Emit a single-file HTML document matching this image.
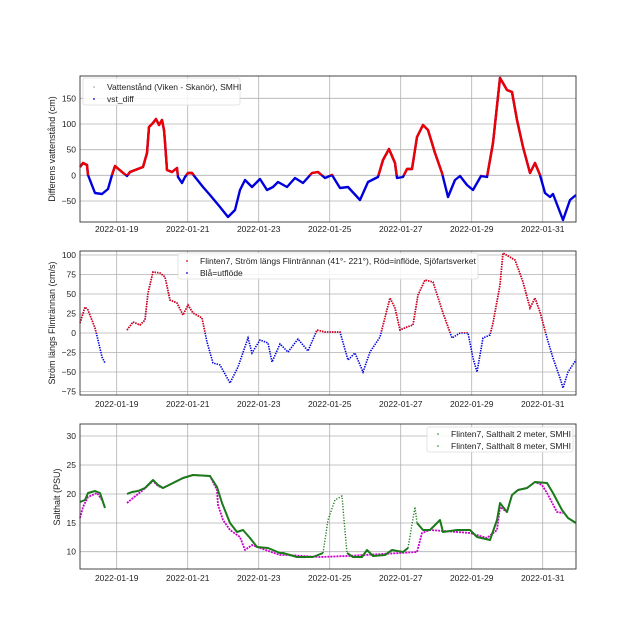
<!DOCTYPE html>
<html><head><meta charset="utf-8"><style>
html,body{margin:0;padding:0;background:#fff}
svg{display:block}
text{font-family:"Liberation Sans","DejaVu Sans",sans-serif;fill:#222}
.t{font-size:8.5px}
.yl{font-size:9px}
.lg{font-size:8.5px}
.g{stroke:#b0b0b0;stroke-width:0.8}
.ax{fill:none;stroke:#333;stroke-width:0.9}
</style></head><body>
<svg width="640" height="640" viewBox="0 0 640 640" xmlns="http://www.w3.org/2000/svg">
<defs>
<clipPath id="c1r"><rect x="80" y="76" width="496" height="99.3"/></clipPath>
<clipPath id="c2r"><rect x="80" y="251" width="496" height="82"/></clipPath>
</defs>

<!-- Panel 1 -->
<g>
<g class="g">
<line x1="116.7" y1="76" x2="116.7" y2="222"/><line x1="187.7" y1="76" x2="187.7" y2="222"/><line x1="258.7" y1="76" x2="258.7" y2="222"/><line x1="329.7" y1="76" x2="329.7" y2="222"/><line x1="400.7" y1="76" x2="400.7" y2="222"/><line x1="471.7" y1="76" x2="471.7" y2="222"/><line x1="542.7" y1="76" x2="542.7" y2="222"/>
<line x1="80" y1="98.3" x2="576" y2="98.3"/><line x1="80" y1="124" x2="576" y2="124"/><line x1="80" y1="149.7" x2="576" y2="149.7"/><line x1="80" y1="175.3" x2="576" y2="175.3"/><line x1="80" y1="201" x2="576" y2="201"/>
</g>
<polyline fill="none" stroke="#0000dd" stroke-width="2.4" stroke-linejoin="round" points="80,167 83,163 87,165 88,175 95,193 102,194 108,189 112,175 115,166 122,172 127,176 130,172 143,167 147,153 149,127 153,123 156,119 159,125 162,120 164,130 165,142 167,170 172,172 177,168 178,177 182,183 185,177 188,173 192,173 195,177 203,187 210,195 220,207 228,217 235,210 240,190 245,180 252,187 260,179 267,190 273,187 278,182 287,187 295,178 303,183 312,173 318,172 325,178 332,175 340,188 348,187 360,200 368,182 378,177 383,160 389,149 395,163 397,178 403,177 407,169 412,169 417,137 423,125 428,130 435,153 442,173 448,197 455,180 460,176 467,185 473,190 481,176 487,177 493,143 500,78 503,83 507,90 512,92 517,120 523,147 530,173 535,163 540,175 545,193 550,197 553,194 563,220 570,200 576,195"/>
<polyline fill="none" stroke="#ee0000" stroke-width="2.4" stroke-linejoin="round" clip-path="url(#c1r)" points="80,167 83,163 87,165 88,175 95,193 102,194 108,189 112,175 115,166 122,172 127,176 130,172 143,167 147,153 149,127 153,123 156,119 159,125 162,120 164,130 165,142 167,170 172,172 177,168 178,177 182,183 185,177 188,173 192,173 195,177 203,187 210,195 220,207 228,217 235,210 240,190 245,180 252,187 260,179 267,190 273,187 278,182 287,187 295,178 303,183 312,173 318,172 325,178 332,175 340,188 348,187 360,200 368,182 378,177 383,160 389,149 395,163 397,178 403,177 407,169 412,169 417,137 423,125 428,130 435,153 442,173 448,197 455,180 460,176 467,185 473,190 481,176 487,177 493,143 500,78 503,83 507,90 512,92 517,120 523,147 530,173 535,163 540,175 545,193"/>
<rect class="ax" x="80" y="76" width="496" height="146"/>
<g class="t" text-anchor="end">
<text x="76" y="101.3">150</text><text x="76" y="127">100</text><text x="76" y="152.7">50</text><text x="76" y="178.3">0</text><text x="76" y="204">−50</text>
</g>
<g class="t" text-anchor="middle">
<text x="116.7" y="232">2022-01-19</text><text x="187.7" y="232">2022-01-21</text><text x="258.7" y="232">2022-01-23</text><text x="329.7" y="232">2022-01-25</text><text x="400.7" y="232">2022-01-27</text><text x="471.7" y="232">2022-01-29</text><text x="542.7" y="232">2022-01-31</text>
</g>
<text class="yl" transform="translate(55,149) rotate(-90)" text-anchor="middle">Differens vattenstånd (cm)</text>
<rect x="83" y="78" width="157" height="27" fill="#fff" fill-opacity="0.85" stroke="#ddd" stroke-width="0.8" rx="2"/>
<circle cx="94" cy="87" r="0.8" fill="#999"/><circle cx="94" cy="99" r="0.9" fill="#0000dd"/>
<text class="lg" x="107" y="90">Vattenstånd (Viken - Skanör), SMHI</text>
<text class="lg" x="107" y="102">vst_diff</text>
</g>

<!-- Panel 2 -->
<g>
<g class="g">
<line x1="116.7" y1="251" x2="116.7" y2="395"/><line x1="187.7" y1="251" x2="187.7" y2="395"/><line x1="258.7" y1="251" x2="258.7" y2="395"/><line x1="329.7" y1="251" x2="329.7" y2="395"/><line x1="400.7" y1="251" x2="400.7" y2="395"/><line x1="471.7" y1="251" x2="471.7" y2="395"/><line x1="542.7" y1="251" x2="542.7" y2="395"/>
<line x1="80" y1="255" x2="576" y2="255"/><line x1="80" y1="274.5" x2="576" y2="274.5"/><line x1="80" y1="294" x2="576" y2="294"/><line x1="80" y1="313.5" x2="576" y2="313.5"/><line x1="80" y1="333" x2="576" y2="333"/><line x1="80" y1="352.5" x2="576" y2="352.5"/><line x1="80" y1="372" x2="576" y2="372"/><line x1="80" y1="391.5" x2="576" y2="391.5"/>
</g>
<g fill="none" stroke-width="1.6" stroke-dasharray="1.4 1.1">
<polyline stroke="#0000dd" points="80,323 85,307 88,310 95,328 98,340 102,357 105,363"/>
<polyline stroke="#0000dd" points="127,330 133,322 140,325 145,320 148,293 153,272 160,273 165,277 170,300 177,303 183,315 188,305 193,313 202,318 207,342 213,363 220,365 230,383 238,367 248,338 252,353 260,340 268,343 272,362 280,344 288,352 298,339 308,351 317,330 325,332 340,332 348,360 355,353 363,372 370,352 380,337 390,298 395,308 400,330 407,327 413,325 418,295 425,280 433,282 443,313 452,338 460,333 468,333 473,358 477,372 483,338 490,335 493,323 500,285 503,253 515,260 523,282 530,308 535,298 540,312 547,338 553,358 560,378 563,388 568,372 576,360"/>
<g clip-path="url(#c2r)">
<polyline stroke="#ee0000" points="80,323 85,307 88,310 95,328 98,340 102,357 105,363"/>
<polyline stroke="#ee0000" points="127,330 133,322 140,325 145,320 148,293 153,272 160,273 165,277 170,300 177,303 183,315 188,305 193,313 202,318 207,342 213,363 220,365 230,383 238,367 248,338 252,353 260,340 268,343 272,362 280,344 288,352 298,339 308,351 317,330 325,332 340,332 348,360 355,353 363,372 370,352 380,337 390,298 395,308 400,330 407,327 413,325 418,295 425,280 433,282 443,313 452,338 460,333 468,333 473,358 477,372 483,338 490,335 493,323 500,285 503,253 515,260 523,282 530,308 535,298 540,312 547,338 553,358 560,378"/>
</g>
</g>
<rect class="ax" x="80" y="251" width="496" height="144"/>
<g class="t" text-anchor="end">
<text x="76" y="258">100</text><text x="76" y="277.5">75</text><text x="76" y="297">50</text><text x="76" y="316.5">25</text><text x="76" y="336">0</text><text x="76" y="355.5">−25</text><text x="76" y="375">−50</text><text x="76" y="394.5">−75</text>
</g>
<g class="t" text-anchor="middle">
<text x="116.7" y="407">2022-01-19</text><text x="187.7" y="407">2022-01-21</text><text x="258.7" y="407">2022-01-23</text><text x="329.7" y="407">2022-01-25</text><text x="400.7" y="407">2022-01-27</text><text x="471.7" y="407">2022-01-29</text><text x="542.7" y="407">2022-01-31</text>
</g>
<text class="yl" transform="translate(55,323) rotate(-90)" text-anchor="middle">Ström längs Flinträn­nan (cm/s)</text>
<rect x="178" y="253" width="300" height="26" fill="#fff" fill-opacity="0.85" stroke="#ddd" stroke-width="0.8" rx="2"/>
<circle cx="187" cy="261" r="0.9" fill="#ee0000"/><circle cx="187" cy="273" r="0.9" fill="#0000dd"/>
<text class="lg" x="200" y="264">Flinten7, Ström längs Flinträn­nan (41°- 221°), Röd=inflöde, Sjöfartsverket</text>
<text class="lg" x="200" y="276">Blå=utflöde</text>
</g>

<!-- Panel 3 -->
<g>
<g class="g">
<line x1="116.7" y1="424" x2="116.7" y2="569"/><line x1="187.7" y1="424" x2="187.7" y2="569"/><line x1="258.7" y1="424" x2="258.7" y2="569"/><line x1="329.7" y1="424" x2="329.7" y2="569"/><line x1="400.7" y1="424" x2="400.7" y2="569"/><line x1="471.7" y1="424" x2="471.7" y2="569"/><line x1="542.7" y1="424" x2="542.7" y2="569"/>
<line x1="80" y1="436" x2="576" y2="436"/><line x1="80" y1="465" x2="576" y2="465"/><line x1="80" y1="494" x2="576" y2="494"/><line x1="80" y1="523" x2="576" y2="523"/><line x1="80" y1="551.7" x2="576" y2="551.7"/>
</g>
<g fill="none" stroke-linejoin="round">
<polyline stroke="#cc00cc" stroke-width="1.8" stroke-dasharray="2 1" points="80,518 83,507 88,497 97,493 102,500"/>
<polyline stroke="#cc00cc" stroke-width="1.8" stroke-dasharray="2 1" points="127,503 133,498 143,490 153,481 158,486 163,488 173,483 183,478 193,475 210,476 217,490 218,505 223,520 230,530 240,537 245,550 252,545 260,548 280,555 287,555 320,557 347,556 400,553 417,552 422,533 430,530 457,532 470,533 487,538 497,530 500,507 507,512 512,495 518,490 527,488 535,482 542,485 547,493 557,512 563,513"/>
<polyline stroke="#1a7a1a" stroke-width="2" points="80,502 85,500 88,493 95,491 100,493 105,508"/>
<polyline stroke="#1a7a1a" stroke-width="2" points="127,494 132,492 138,491 145,488 153,480 158,485 163,488 173,483 183,478 193,475 210,476 217,487 222,503 230,523 237,532 243,530 250,538 257,547 268,548 280,553 283,553 297,557 313,557 323,553"/>
<polyline stroke="#1a7a1a" stroke-width="1.4" stroke-dasharray="1.2 1.6" points="323,553 328,520 335,500 342,496 344,520 347,553"/>
<polyline stroke="#1a7a1a" stroke-width="2" points="347,553 353,557 362,557 367,550 373,556 385,555 392,550 403,552 408,548"/>
<polyline stroke="#1a7a1a" stroke-width="1.4" stroke-dasharray="1.2 1.6" points="408,548 415,507 417,523"/>
<polyline stroke="#1a7a1a" stroke-width="2" points="417,523 423,530 430,530 440,520 443,532 457,530 470,530 477,537 490,540 497,520 500,503 507,512 512,495 518,490 527,488 535,482 547,483 553,493 562,510 568,518 576,523"/>
</g>
<rect class="ax" x="80" y="424" width="496" height="145"/>
<g class="t" text-anchor="end">
<text x="76" y="439">30</text><text x="76" y="468">25</text><text x="76" y="497">20</text><text x="76" y="526">15</text><text x="76" y="554.7">10</text>
</g>
<g class="t" text-anchor="middle">
<text x="116.7" y="581">2022-01-19</text><text x="187.7" y="581">2022-01-21</text><text x="258.7" y="581">2022-01-23</text><text x="329.7" y="581">2022-01-25</text><text x="400.7" y="581">2022-01-27</text><text x="471.7" y="581">2022-01-29</text><text x="542.7" y="581">2022-01-31</text>
</g>
<text class="yl" transform="translate(60,497) rotate(-90)" text-anchor="middle">Salthalt (PSU)</text>
<rect x="427" y="427" width="146" height="25" fill="#fff" fill-opacity="0.85" stroke="#ddd" stroke-width="0.8" rx="2"/>
<circle cx="438" cy="434" r="0.8" fill="#1a7a1a"/><circle cx="438" cy="446" r="0.8" fill="#1a7a1a"/>
<text class="lg" x="451" y="437">Flinten7, Salthalt 2 meter, SMHI</text>
<text class="lg" x="451" y="449">Flinten7, Salthalt 8 meter, SMHI</text>
</g>
</svg>
</body></html>
